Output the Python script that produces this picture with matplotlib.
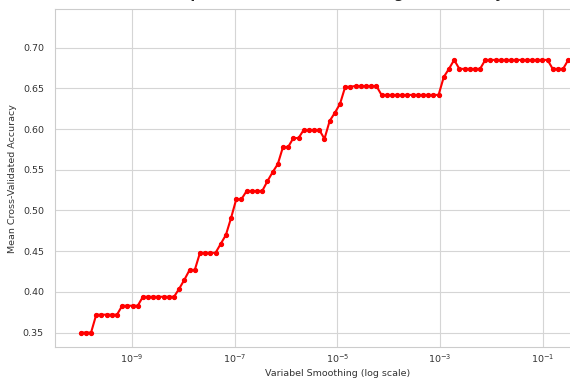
import numpy as np
import matplotlib.pyplot as plt
import seaborn as sns

# var_smoothing grid searched (1e-10 .. 1, 100 steps); points shown up to ~10^-0.5
var_smoothing = np.logspace(-10, 0, 100)[:95]

mean_cv_accuracy = [
    0.350, 0.350, 0.350,
    0.372, 0.372, 0.372, 0.372, 0.372,
    0.383, 0.383, 0.383, 0.383,
    0.394, 0.394, 0.394, 0.394, 0.394, 0.394, 0.394,
    0.404, 0.415, 0.427, 0.427,
    0.448, 0.448, 0.448, 0.448,
    0.459, 0.470, 0.491, 0.514, 0.514,
    0.524, 0.524, 0.524, 0.524,
    0.536, 0.547, 0.557, 0.578, 0.578, 0.589, 0.589,
    0.599, 0.599, 0.599, 0.599,
    0.588, 0.610, 0.620, 0.631, 0.652, 0.652,
    0.653, 0.653, 0.653, 0.653, 0.653,
    0.642, 0.642, 0.642, 0.642, 0.642, 0.642,
    0.642, 0.642, 0.642, 0.642, 0.642, 0.642,
    0.664, 0.674, 0.685,
    0.674, 0.674, 0.674, 0.674, 0.674,
    0.685, 0.685, 0.685, 0.685, 0.685, 0.685, 0.685,
    0.685, 0.685, 0.685, 0.685, 0.685, 0.685,
    0.674, 0.674, 0.674,
    0.685,
]

sns.set_style('whitegrid')
plt.rcParams['font.family'] = ['DejaVu Sans']

fig = plt.figure(figsize=(5.7, 3.83), dpi=100)
ax = fig.add_axes([0.0965, 0.093, 0.991, 0.883])

ax.plot(var_smoothing, mean_cv_accuracy, color='red', marker='o',
        markersize=2.8, linewidth=1.5)

ax.set_xscale('log')
ax.set_xlim(10 ** -10.5, 10 ** 0.5)
ax.set_ylim(0.3318, 0.7473)
ax.set_xticks([1e-9, 1e-7, 1e-5, 1e-3, 1e-1])
ax.xaxis.set_minor_locator(plt.NullLocator())
ax.set_yticks([0.35, 0.40, 0.45, 0.50, 0.55, 0.60, 0.65, 0.70])
ax.set_yticklabels([f'{v:.2f}' for v in ax.get_yticks()])
ax.tick_params(labelsize=6.8, colors='#333333', length=0)
ax.tick_params(axis='x', pad=3.5)
ax.tick_params(axis='y', pad=8)

ax.set_xlabel('Variabel Smoothing (log scale)', fontsize=6.8, color='#333333',
              labelpad=3)
ax.set_ylabel('Mean Cross-Validated Accuracy', fontsize=6.8, color='#333333',
              labelpad=4)
ax.set_title('Impact of Variabel Smoothing on Accuracy',
             fontsize=10, fontweight='bold', pad=8.3)

for spine in ax.spines.values():
    spine.set_color('#cccccc')
ax.grid(True, color='#d5d5d5', linewidth=0.8)

fig.savefig('out.png', dpi=100)
